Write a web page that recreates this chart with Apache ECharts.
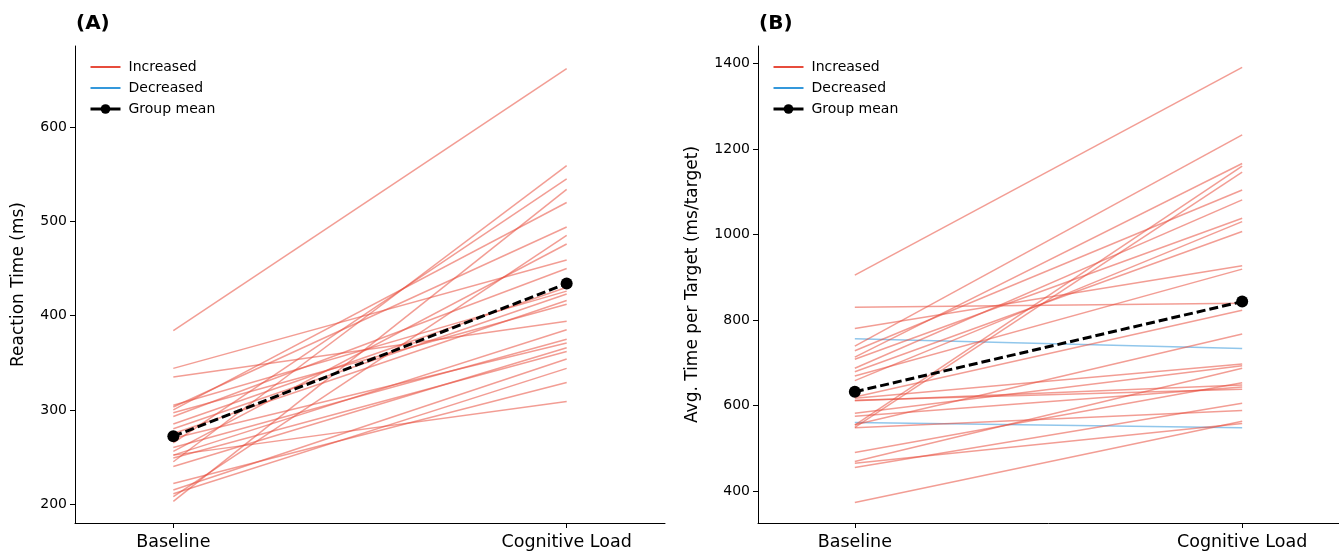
<!DOCTYPE html>
<html>
<head>
<meta charset="utf-8">
<script src="https://cdn.jsdelivr.net/npm/echarts@6/dist/echarts.min.js"></script>
<style>
  html, body { margin: 0; padding: 0; background: #fff; }
  #main { width: 1339px; height: 552px; }
</style>
</head>
<body>
<div id="main"></div>
<script>
// conditions on the x axis
var categories = ['Baseline', 'Cognitive Load'];

// panel A: reaction time (ms), one pair per participant
var baselineA = [384, 344, 335, 305, 303, 300, 297, 293, 280, 275, 270, 256, 252,
                 249, 245, 240, 222, 215, 211, 203, 208, 260, 265, 252, 285];
var loadA     = [662, 459, 394, 426, 494, 520, 412, 450, 423, 416, 371, 476, 385,
                 362, 559, 366, 329, 354, 344, 534, 485, 375, 545, 309, 430];
var meanA = [272, 434];
var yTicksA = [200, 300, 400, 500, 600];

// panel B: avg time per target (ms/target)
var baselineB = [905, 830, 780, 756, 739, 728, 713, 708, 687, 679, 669, 658, 617, 611,
                 582, 575, 560, 554, 549, 490, 469, 455, 373, 612, 555, 620, 548, 465];
var loadB     = [1391, 839, 927, 733, 1233, 1104, 1166, 1038, 1081, 1007, 919, 1030, 697, 648,
                 693, 643, 548, 1160, 1146, 653, 687, 605, 563, 638, 767, 823, 588, 558];
var meanB = [632, 843];
var yTicksB = [400, 600, 800, 1000, 1200, 1400];

var RED = '#e74c3c';
var BLUE = '#3498db';
var FONT = 'DejaVu Sans';

var chart = echarts.init(document.getElementById('main'), null, { renderer: 'canvas' });

function buildSeries(base, load, mean, idx) {
  var out = [];
  for (var i = 0; i < base.length; i++) {
    var up = load[i] >= base[i];
    out.push({
      name: up ? 'Increased' : 'Decreased',
      type: 'line',
      xAxisIndex: idx, yAxisIndex: idx,
      data: [[0, base[i]], [1, load[i]]],
      symbol: 'none',
      silent: true,
      color: up ? RED : BLUE,
      lineStyle: { width: 1.5, color: up ? RED : BLUE, opacity: 0.55 },
      z: 2
    });
  }
  out.push({
    name: 'Group mean',
    type: 'line',
    xAxisIndex: idx, yAxisIndex: idx,
    data: [[0, mean[0]], [1, mean[1]]],
    symbol: 'circle',
    symbolSize: 12,
    color: '#000',
    itemStyle: { color: '#000' },
    lineStyle: { width: 3, color: '#000', type: [9, 4] },
    z: 5
  });
  return out;
}

function xAxis(idx) {
  return {
    type: 'value', gridIndex: idx, min: -0.25, max: 1.25,
    splitLine: { show: false },
    axisLine: { onZero: false, lineStyle: { color: '#000', width: 1 } },
    axisTick: { customValues: [0, 1], length: 5, lineStyle: { color: '#000' } },
    axisLabel: {
      customValues: [0, 1], color: '#000', fontFamily: FONT, fontSize: 17.5, margin: 10,
      formatter: function (v) { return categories[Math.round(v)]; }
    }
  };
}

function yAxis(idx, min, max, ticks, name, gap) {
  return {
    type: 'value', gridIndex: idx, min: min, max: max,
    name: name, nameLocation: 'middle', nameGap: gap,
    nameTextStyle: { color: '#000', fontFamily: FONT, fontSize: 17 },
    splitLine: { show: false },
    axisLine: { show: true, onZero: false, lineStyle: { color: '#000', width: 1 } },
    axisTick: { show: true, customValues: ticks, length: 5, lineStyle: { color: '#000' } },
    axisLabel: {
      customValues: ticks, color: '#000', fontFamily: FONT, fontSize: 14, margin: 8,
      formatter: function (v) { return String(v); }
    }
  };
}

function legend(left) {
  return {
    left: left, top: 55, orient: 'vertical', itemWidth: 30, itemHeight: 12, itemGap: 7,
    textStyle: { color: '#000', fontFamily: FONT, fontSize: 14, padding: [0, 0, 0, 3] },
    data: [
      { name: 'Increased', lineStyle: { opacity: 1, width: 2 }, itemStyle: { opacity: 0 } },
      { name: 'Decreased', lineStyle: { opacity: 1, width: 2 }, itemStyle: { opacity: 0 } },
      { name: 'Group mean', lineStyle: { type: 'solid', width: 3 }, itemStyle: { color: '#000' } }
    ]
  };
}

var option = {
  backgroundColor: '#fff',
  animation: false,
  title: [
    { text: '(A)', left: 71, top: 9, textStyle: { fontFamily: FONT, fontSize: 20, fontWeight: 'bold', color: '#000' } },
    { text: '(B)', left: 754, top: 9, textStyle: { fontFamily: FONT, fontSize: 20, fontWeight: 'bold', color: '#000' } }
  ],
  legend: [legend(84), legend(767)],
  grid: [
    { left: 75, top: 46, width: 590, height: 477 },
    { left: 758, top: 46, width: 591, height: 477 }
  ],
  xAxis: [xAxis(0), xAxis(1)],
  yAxis: [
    yAxis(0, 180, 686, yTicksA, 'Reaction Time (ms)', 48),
    yAxis(1, 325, 1441, yTicksB, 'Avg. Time per Target (ms/target)', 57)
  ],
  series: buildSeries(baselineA, loadA, meanA, 0).concat(buildSeries(baselineB, loadB, meanB, 1))
};

chart.setOption(option);
</script>
</body>
</html>
